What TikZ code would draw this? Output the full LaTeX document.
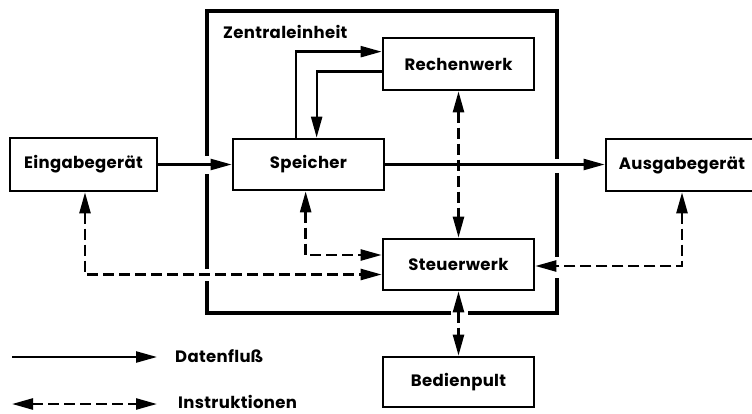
\documentclass[tikz,border=0pt]{standalone}
\usepackage{fontspec}
\setmainfont{Poppins}[LetterSpace=2]
\usetikzlibrary{arrows.meta,calc}
\begin{document}
\begin{tikzpicture}[x=1pt,y=-1pt,
  box/.style={draw,line width=2.7pt,minimum width=151pt,minimum height=51pt,inner sep=0pt,font=\fontsize{16.5}{20}\bfseries},
  lbl/.style={font=\fontsize{16.5}{20}\bfseries,inner sep=0pt},
  data/.style={line width=2.3pt,-{Triangle[length=21pt,width=11pt]}},
  instr/.style={line width=2.5pt,dash pattern=on 11pt off 5pt,{Triangle[length=21pt,width=11pt]}-{Triangle[length=21pt,width=11pt]}},
  frame/.style={line width=4.6pt}]
\useasboundingbox (0,0) rectangle (752,414);
\clip (0,0) rectangle (752,414);
\fill[white] (0,0) rectangle (752,414);
% boxes
\node[box,minimum width=147pt,minimum height=53pt] (ein) at (83.5,164.5) {Eingabegerät};
\node[box] (spe) at (308.5,164.5) {Speicher};
\node[box,minimum height=52pt] (rec) at (458.5,64) {Rechenwerk};
\node[box] (ste) at (458.5,264.5) {Steuerwerk};
\node[box,minimum height=50pt] (bed) at (458.5,382) {Bedienpult};
\node[box,minimum width=152pt,minimum height=52pt] (aus) at (682,165) {Ausgabegerät};
\node[lbl,anchor=west] (zen) at (223,32) {Zentraleinheit};
% frame with gaps
\draw[frame] (207,156) -- (207,11) -- (557,11) -- (557,159)
  (557,173) -- (557,257)
  (557,278) -- (557,313) -- (468,313)
  (451,313) -- (207,313) -- (207,281)
  (207,269) -- (207,174);
% data flow
\draw[data] (ein.east) -- (spe.west);
\draw[data] (spe.east) -- (spe.east -| aus.west);
\draw[data] ($(spe.north west)+(64,0)$) |- ($(rec.north west)+(0,15)$);
\draw[data] ($(rec.north west)+(0,35)$) -| ($(spe.north west)+(85,0)$);
% instructions
\draw[instr] (rec.south) -- (ste.north);
\draw[instr] (ste.south) -- (bed.north);
\draw[instr] ($(spe.south west)+(74,0)$) |- ($(ste.west)+(0,-9.5)$);
\draw[instr] ($(ein.south)+(1.5,0)$) |- ($(ste.west)+(0,10)$);
\draw[instr] (aus.south) |- ($(ste.east)+(0,1.5)$);
% legend
\coordinate (l1a) at (12,357);
\coordinate (l1b) at (157,357);
\coordinate (l2a) at (12,404);
\coordinate (l2b) at (157,404);
\draw[data] (l1a) -- (l1b);
\draw[instr] (l2a) -- (l2b);
\node[lbl,anchor=west] (ldat) at (175,356) {Datenfluß};
\node[lbl,anchor=west] (lins) at (178,402) {Instruktionen};
\end{tikzpicture}
\end{document}
